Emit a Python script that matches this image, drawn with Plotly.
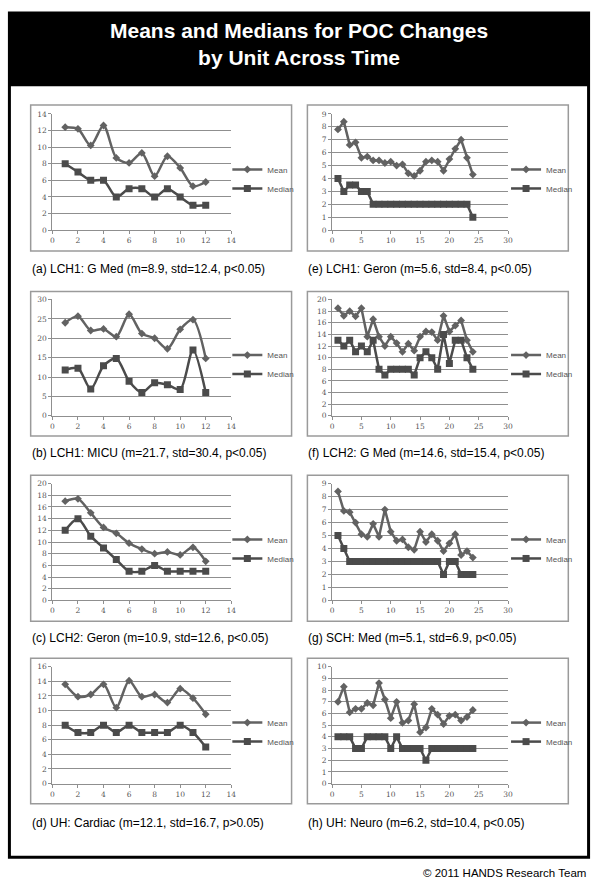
import plotly.graph_objects as go

# ---- data ----
x12 = list(range(1, 13))
x24 = list(range(1, 25))

a_mean = [12.4, 12.2, 10.2, 12.6, 8.7, 8.1, 9.3, 6.5, 8.9, 7.5, 5.3, 5.8]
a_median = [8, 7, 6, 6, 4, 5, 5, 4, 5, 4, 3, 3]

b_mean = [24.0, 25.7, 22.0, 22.4, 20.4, 26.2, 21.2, 20.0, 17.3, 22.3, 24.8, 14.8]
b_median = [11.8, 12.3, 6.9, 12.9, 14.8, 8.9, 6.0, 8.5, 8.0, 6.8, 17.0, 6.0]

c_mean = [17.0, 17.4, 15.0, 12.5, 11.5, 9.8, 8.8, 8.0, 8.3, 7.8, 9.1, 6.7]
c_median = [12, 14, 11, 9, 7, 5, 5, 6, 5, 5, 5, 5]

d_mean = [13.6, 11.9, 12.2, 13.6, 10.4, 14.1, 11.9, 12.2, 11.1, 13.0, 11.7, 9.5]
d_median = [8, 7, 7, 8, 7, 8, 7, 7, 7, 8, 7, 5]

e_mean = [7.8, 8.4, 6.6, 6.8, 5.6, 5.7, 5.4, 5.4, 5.2, 5.3, 5.0, 5.1,
          4.4, 4.2, 4.6, 5.3, 5.4, 5.3, 4.6, 5.5, 6.3, 7.0, 5.6, 4.3]
e_median = [4, 3, 3.5, 3.5, 3, 3, 2, 2, 2, 2, 2, 2,
            2, 2, 2, 2, 2, 2, 2, 2, 2, 2, 2, 1]

f_mean = [18.5, 17.2, 18.0, 17.1, 18.5, 13.6, 16.6, 13.6, 12.0, 13.6, 12.5, 11.0,
          12.4, 11.2, 13.6, 14.5, 14.4, 13.0, 17.2, 14.5, 15.5, 16.4, 13.0, 11.0]
f_median = [13, 12, 13, 11, 12, 11, 13, 8, 7, 8, 8, 8,
            8, 7, 10, 11, 10, 8, 14, 9, 13, 13, 10, 8]

g_mean = [8.4, 6.9, 6.8, 6.0, 5.1, 4.9, 5.9, 4.9, 7.0, 5.3, 4.6, 4.7,
          4.1, 3.9, 5.3, 4.5, 5.1, 4.6, 3.8, 4.4, 5.1, 3.5, 3.8, 3.3]
g_median = [5, 4, 3, 3, 3, 3, 3, 3, 3, 3, 3, 3,
            3, 3, 3, 3, 3, 3, 2, 3, 3, 2, 2, 2]

h_mean = [7.0, 8.3, 6.1, 6.4, 6.4, 6.9, 6.7, 8.6, 7.2, 5.6, 7.0, 5.2,
          5.4, 6.8, 4.4, 4.8, 6.4, 5.9, 5.1, 5.8, 5.9, 5.4, 5.7, 6.3]
h_median = [4, 4, 4, 3, 3, 4, 4, 4, 4, 3, 4, 3,
            3, 3, 3, 2, 3, 3, 3, 3, 3, 3, 3, 3]

captions = [
    "(a) LCH1: G Med (m=8.9, std=12.4, p<0.05)",
    "(b) LCH1: MICU (m=21.7, std=30.4, p<0.05)",
    "(c) LCH2: Geron (m=10.9, std=12.6, p<0.05)",
    "(d) UH: Cardiac (m=12.1, std=16.7, p>0.05)",
    "(e) LCH1: Geron (m=5.6, std=8.4, p<0.05)",
    "(f) LCH2: G Med (m=14.6, std=15.4, p<0.05)",
    "(g) SCH: Med (m=5.1, std=6.9, p<0.05)",
    "(h) UH: Neuro (m=6.2, std=10.4, p<0.05)",
]

panels = [
    (x12, a_mean, a_median, 14, 2),
    (x12, b_mean, b_median, 30, 5),
    (x12, c_mean, c_median, 20, 2),
    (x12, d_mean, d_median, 16, 2),
    (x24, e_mean, e_median, 9, 1),
    (x24, f_mean, f_median, 20, 2),
    (x24, g_mean, g_median, 9, 1),
    (x24, h_mean, h_median, 10, 1),
]

# ---- layout geometry (pixels in a 600 x 895 page) ----
W, H = 600, 895
SANS = "Liberation Sans, Arial, Helvetica, sans-serif"
GRID = "#8f8f8f"


def px(x):
    return x / W


def py(y):
    return 1 - y / H


col_plot_x = [(51, 232), (334, 512)]
col_box_x = [(29, 293), (309, 573)]
col_legend_x = [228, 510]
row_plot_y = [(111, 228.5), (298.5, 416), (484.5, 602.5), (669.5, 787.5)]
row_box_y = [(102, 249.5), (290.5, 436.5), (476, 623.5), (661, 808)]
row_caption_y = [268, 454, 640, 827]

fig = go.Figure()
layout = {}
shapes = []
annotations = []

for i, (xs, mean, median, ymax, ydt) in enumerate(panels):
    col, row = divmod(i, 4)
    n = i + 1
    xa = "x" if n == 1 else f"x{n}"
    ya = "y" if n == 1 else f"y{n}"
    leg = "legend" if n == 1 else f"legend{n}"
    shape = "spline" if col == 0 else "linear"

    fig.add_trace(go.Scatter(
        x=xs, y=mean, name="Mean", mode="lines+markers",
        line=dict(color="#626262", width=2.5, shape=shape, smoothing=0.8),
        marker=dict(symbol="diamond", size=6, color="#626262"),
        xaxis=xa, yaxis=ya, legend=leg,
    ))
    fig.add_trace(go.Scatter(
        x=xs, y=median, name="Median", mode="lines+markers",
        line=dict(color="#4b4b4b", width=2.5, shape=shape, smoothing=0.8),
        marker=dict(symbol="square", size=7, color="#4b4b4b"),
        xaxis=xa, yaxis=ya, legend=leg,
    ))

    x0, x1 = col_plot_x[col]
    y0, y1 = row_plot_y[row]
    xmax, xdt = (14, 2) if col == 0 else (30, 5)
    axfont = dict(size=7.5, color="#555555", family="DejaVu Serif, serif")
    layout[f"xaxis{n if n > 1 else ''}"] = dict(
        domain=[px(x0), px(x1)], anchor=ya, range=[0, xmax], dtick=xdt,
        showgrid=False, zeroline=False, showline=True, linecolor=GRID, linewidth=1,
        ticks="outside", ticklen=3, tickcolor=GRID, tickfont=axfont,
        fixedrange=True,
    )
    layout[f"yaxis{n if n > 1 else ''}"] = dict(
        domain=[py(y1), py(y0)], anchor=xa, range=[0, ymax], dtick=ydt,
        showgrid=True, gridcolor=GRID, gridwidth=1, zeroline=False,
        showline=True, linecolor=GRID, linewidth=1,
        ticks="outside", ticklen=3, tickcolor=GRID, tickfont=axfont,
        fixedrange=True,
    )
    layout[leg] = dict(
        x=px(col_legend_x[col]), y=py((y0 + y1) / 2 + 7), xanchor="left", yanchor="middle",
        bgcolor="rgba(0,0,0,0)", font=dict(size=8, color="#555555", family=SANS),
        itemwidth=30, tracegroupgap=0,
    )

    bx0, bx1 = col_box_x[col]
    by0, by1 = row_box_y[row]
    shapes.append(dict(type="rect", xref="paper", yref="paper",
                       x0=px(bx0), x1=px(bx1), y0=py(by1), y1=py(by0),
                       line=dict(color="#9a9a9a", width=1.5)))
    annotations.append(dict(
        text=captions[i], xref="paper", yref="paper",
        x=px(bx0 - 1), y=py(row_caption_y[row]), xanchor="left", yanchor="middle",
        showarrow=False, font=dict(size=12, color="black", family=SANS),
    ))

# outer frame and title band
shapes.append(dict(type="rect", xref="paper", yref="paper", layer="below",
                   x0=px(7.5), x1=px(593.5), y0=py(862), y1=py(9),
                   line=dict(color="black", width=3)))
shapes.append(dict(type="rect", xref="paper", yref="paper", layer="below",
                   x0=px(7.5), x1=px(593.5), y0=py(83), y1=py(9),
                   fillcolor="black", line=dict(color="black", width=0)))

annotations.append(dict(
    text="<b>Means and Medians for POC Changes<br>by Unit Across Time</b>",
    xref="paper", yref="paper", x=0.5, y=py(40), xanchor="center", yanchor="middle",
    showarrow=False, font=dict(size=21, color="white", family=SANS),
))
annotations.append(dict(
    text="© 2011 HANDS Research Team", xref="paper", yref="paper",
    x=px(593), y=py(878), xanchor="right", yanchor="middle",
    showarrow=False, font=dict(size=11.5, color="black", family=SANS),
))

fig.update_layout(
    width=W, height=H,
    margin=dict(l=0, r=0, t=0, b=0),
    paper_bgcolor="white", plot_bgcolor="white",
    shapes=shapes, annotations=annotations,
    **layout,
)

fig.write_html("out.html", config={"displayModeBar": False},
               post_script="document.body.style.margin='0';")
